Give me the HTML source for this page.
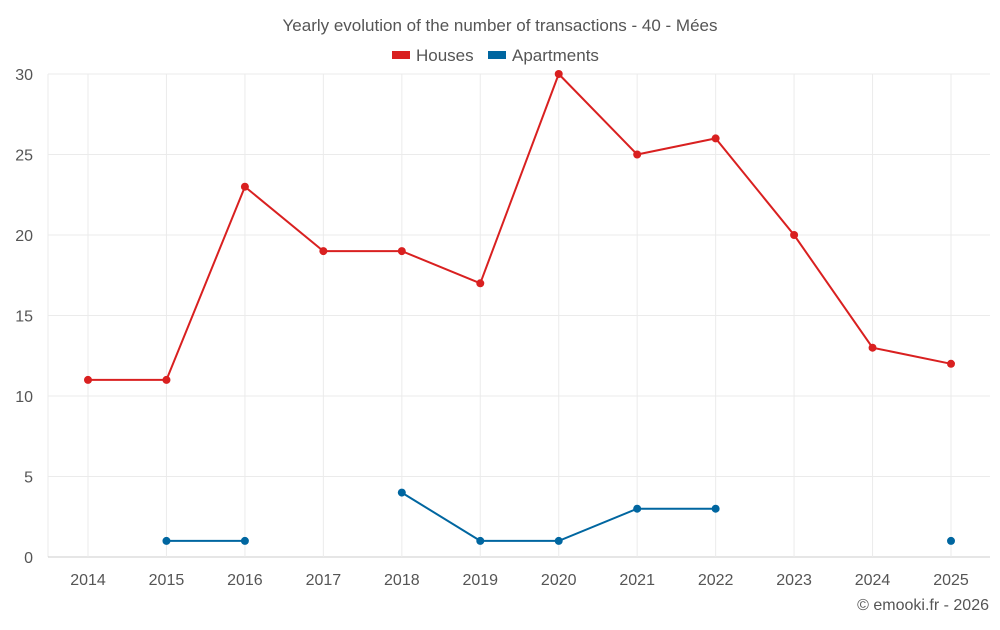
<!DOCTYPE html>
<html><head><meta charset="utf-8"><style>
body{margin:0;background:#fff;font-family:"Liberation Sans",Roboto,sans-serif}
svg text{font-family:"Liberation Sans",sans-serif}
</style></head><body>
<svg width="1000" height="625" id="c">
<text x="500" y="31" text-anchor="middle" font-size="17" fill="#555">Yearly evolution of the number of transactions - 40 - Mées</text>
<g>
<g><rect x="392" y="51" width="18" height="8" fill="#d92020"/><text x="416" y="61" font-size="17" fill="#555">Houses</text></g>
<g><rect x="488" y="51" width="18" height="8" fill="#0066a0"/><text x="512" y="61" font-size="17" fill="#555">Apartments</text></g>
</g>
<g id="grid"></g><g id="axes"></g><g id="series"></g>
<text x="989" y="610" text-anchor="end" font-size="16" fill="#555">© emooki.fr - 2026</text>
</svg>
<script>
const years=[2014,2015,2016,2017,2018,2019,2020,2021,2022,2023,2024,2025];
const houses=[11,11,23,19,19,17,30,25,26,20,13,12];
const apartments=[null,1,1,null,4,1,1,3,3,null,null,1];
const yTicks=[0,5,10,15,20,25,30];
const NS="http://www.w3.org/2000/svg";
const L=48,R=990,T=74,B=557,x0=88,x1=951;
const X=i=>x0+(x1-x0)*i/(years.length-1);
const Y=v=>B-(B-T)*v/30;
function el(t,a,p){const e=document.createElementNS(NS,t);for(const k in a)e.setAttribute(k,a[k]);p.appendChild(e);return e;}
const g=document.getElementById('grid'),ax=document.getElementById('axes'),s=document.getElementById('series');
let l=el('line',{x1:L,x2:L,y1:T,y2:B,stroke:'#ebebeb'},g);


yTicks.forEach(v=>{
 const ln=el('line',{x1:L,x2:R,y1:Y(v),y2:Y(v),stroke:v===0?'#ccc':'#ebebeb'},g);
 
 
 const t=el('text',{x:33,y:Y(v)+6,'text-anchor':'end','font-size':16,fill:'#555'},ax);t.textContent=v;
 
 
});
years.forEach((yr,i)=>{
 const ln=el('line',{x1:X(i),x2:X(i),y1:T,y2:B,stroke:'#ebebeb'},g);
 
 
 const t=el('text',{x:X(i),y:585,'text-anchor':'middle','font-size':16,fill:'#555'},ax);t.textContent=yr;
 
 
});
function draw(data,color,name){
 let seg=[];const segs=[];
 data.forEach((v,i)=>{if(v==null){if(seg.length)segs.push(seg);seg=[];}else seg.push([X(i),Y(v)]);});
 if(seg.length)segs.push(seg);
 segs.forEach(sg=>{if(sg.length>1){const p=el('polyline',{points:sg.map(q=>q.join(',')).join(' '),fill:'none',stroke:color,'stroke-width':2},s);
  
  }});
 data.forEach((v,i)=>{if(v==null)return;const c=el('circle',{cx:X(i),cy:Y(v),r:4,fill:color},s);
  
  });
}
draw(houses,'#d92020','houses');
draw(apartments,'#0066a0','apartments');
</script>
</body></html>
